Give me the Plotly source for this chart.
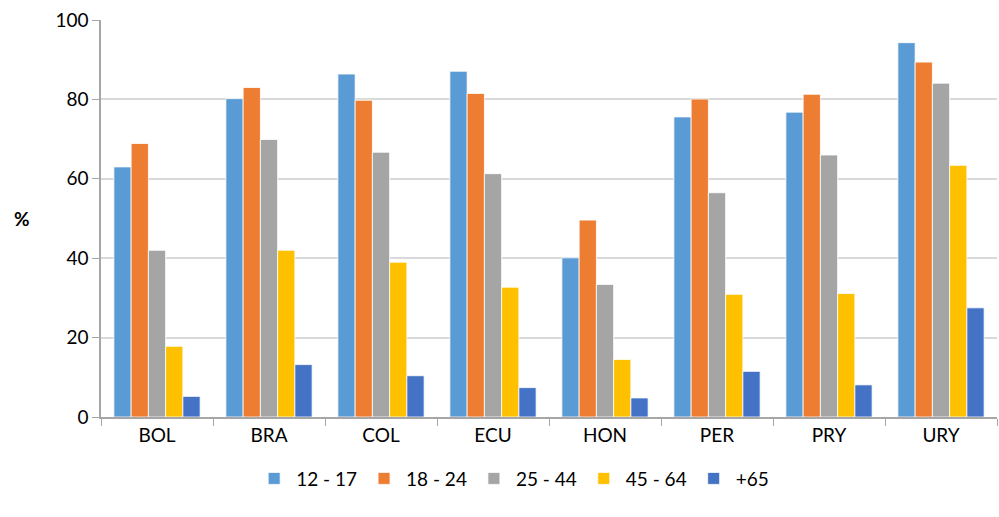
import plotly.graph_objects as go

paises = ["BOL", "BRA", "COL", "ECU", "HON", "PER", "PRY", "URY"]
grupos = ["12 - 17", "18 - 24", "25 - 44", "45 - 64", "+65"]

edad_12_17 = [63.0, 80.2, 86.4, 87.1, 40.1, 75.6, 76.8, 94.3]
edad_18_24 = [68.9, 83.0, 79.8, 81.5, 49.6, 80.1, 81.3, 89.4]
edad_25_44 = [42.0, 69.9, 66.7, 61.3, 33.4, 56.5, 66.0, 84.1]
edad_45_64 = [17.8, 42.0, 39.0, 32.7, 14.5, 30.9, 31.1, 63.4]
edad_65 = [5.2, 13.2, 10.4, 7.4, 4.8, 11.5, 8.1, 27.5]

colores = ["#5b9bd5", "#ed7d31", "#a5a5a5", "#ffc000", "#4472c4"]
series = [edad_12_17, edad_18_24, edad_25_44, edad_45_64, edad_65]

fig = go.Figure()
for nombre, valores, color in zip(grupos, series, colores):
    fig.add_trace(go.Bar(
        x=paises,
        y=valores,
        name=nombre,
        marker=dict(color=color, line=dict(color="white", width=0.8)),
    ))

fig.update_layout(
    width=999,
    height=517,
    paper_bgcolor="white",
    plot_bgcolor="white",
    barmode="group",
    bargap=0.23,
    bargroupgap=0,
    margin=dict(l=101, r=2, t=20, b=100),
    font=dict(family="Lato, 'Open Sans', sans-serif", size=19, color="#000000"),
    showlegend=True,
    legend=dict(
        orientation="h",
        x=0.46, xanchor="center",
        y=-0.155, yanchor="middle",
        font=dict(size=19),
        itemwidth=34,
        traceorder="normal",
    ),
    annotations=[dict(
        text="<b>%</b>",
        xref="paper", yref="paper",
        x=-0.099, y=0.5,
        showarrow=False,
        font=dict(size=19),
    )],
)

fig.update_xaxes(
    showline=True, linecolor="#a6a6a6", linewidth=1.5,
    ticks="outside", tickson="boundaries", ticklen=7, tickcolor="#a6a6a6",
    showgrid=False, automargin=False,
)
fig.update_yaxes(
    range=[0, 100.01], dtick=20,
    showline=True, linecolor="#a6a6a6", linewidth=1.5,
    ticks="outside", ticklen=7, tickcolor="#a6a6a6",
    gridcolor="#d9d9d9", gridwidth=1.5,
    zeroline=False, automargin=False,
)

# quitar el margen de 8px del body para que el gráfico empiece en (0, 0)
fig.write_html(
    "out.html",
    config={"displayModeBar": False},
    post_script="document.body.style.margin = '0';",
)
